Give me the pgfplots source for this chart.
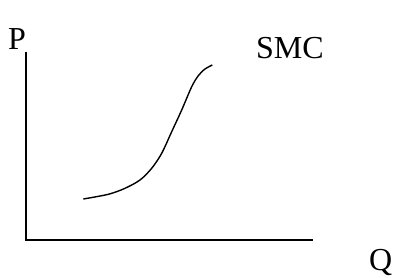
\documentclass[border=0pt]{standalone}
\usepackage{pgfplots}
\pgfplotsset{compat=1.18}
\usepackage{fontspec}
\setmainfont{Liberation Serif}
\begin{document}
\begin{tikzpicture}
\begin{axis}[
  scale only axis, width=394pt, height=278pt,
  xmin=0, xmax=394, ymin=0, ymax=278, y dir=reverse,
  hide axis, clip=false,
]
\addplot[draw=none, forget plot] coordinates {(0,0) (394,278)};
% axes
\addplot[black, line width=2pt] coordinates {(26,52) (26,240)};
\addplot[black, line width=2pt] coordinates {(25,239.5) (313,239.5)};
% SMC curve
\addplot[black, line width=1.4pt, smooth, tension=0.5] coordinates {
  (83.3,199) (108.3,194.3) (125,188.3) (140,180) (151.7,168.3) (161.7,153.3)
  (171.7,131.7) (181.7,110) (191.7,86.7) (198.3,75.7) (205,69) (212.3,65)};
\node[anchor=base west, font=\fontsize{32}{36}\selectfont, inner sep=0] at (axis cs:8,50) {P};
\node[anchor=base west, font=\fontsize{32}{36}\selectfont, inner sep=0] at (axis cs:256,59) {SMC};
\node[anchor=base west, font=\fontsize{32}{36}\selectfont, inner sep=0] at (axis cs:369,270) {Q};
\end{axis}
\end{tikzpicture}
\end{document}
